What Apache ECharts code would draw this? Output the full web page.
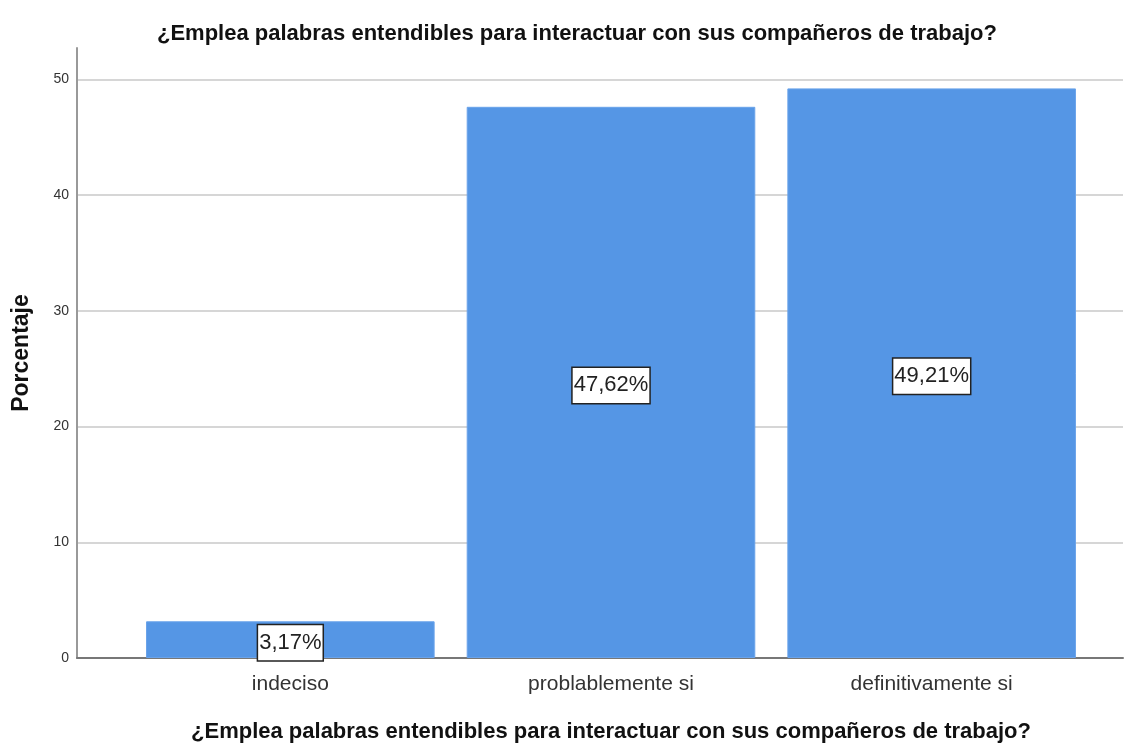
<!DOCTYPE html>
<html>
<head>
<meta charset="utf-8">
<script src="https://cdn.jsdelivr.net/npm/echarts@6/dist/echarts.min.js"></script>
<style>
  html, body { margin: 0; padding: 0; background: #fff; }
  #chart { width: 1131px; height: 745px; }
</style>
</head>
<body>
<div id="chart"></div>
<script>
// datos
const categories = ["indeciso", "problablemente si", "definitivamente si"];
const percentages = [3.17, 47.62, 49.21];
const yTicks = [0, 10, 20, 30, 40, 50];

const pregunta = "¿Emplea palabras entendibles para interactuar con sus compañeros de trabajo?";
const font = "Liberation Sans, Arial, sans-serif";
const yMax = 52.7;

const chart = echarts.init(document.getElementById("chart"));

const option = {
    animation: false,
    title: {
        text: pregunta,
        left: 152,
        top: 18,
        textStyle: { fontFamily: font, fontSize: 22, fontWeight: "bold", color: "#111" }
    },
    grid: [
        { left: 77, right: 8, top: 48, bottom: 87, outerBoundsMode: "none" },
        { left: 130, right: 39, top: 48, bottom: 87, outerBoundsMode: "none" }
    ],
    xAxis: [
        {
            gridIndex: 0,
            type: "category",
            data: categories,
            axisLine: { show: true, lineStyle: { color: "#777", width: 2 } },
            axisTick: { show: false },
            axisLabel: { show: false }
        },
        {
            gridIndex: 1,
            type: "category",
            data: categories,
            axisLine: { show: false },
            axisTick: { show: false },
            axisLabel: { margin: 16, fontFamily: font, fontSize: 21, color: "#333" },
            name: pregunta,
            nameLocation: "middle",
            nameGap: 63,
            nameTextStyle: { fontFamily: font, fontSize: 22, fontWeight: "bold", color: "#111" }
        }
    ],
    yAxis: [
        {
            gridIndex: 0,
            type: "value",
            min: 0,
            max: yMax,
            interval: 10,
            axisLine: { show: true, lineStyle: { color: "#999", width: 2 } },
            axisTick: { show: false },
            axisLabel: {
                showMaxLabel: false,
                margin: 8,
                fontFamily: font, fontSize: 14, color: "#333",
                formatter: v => (yTicks.indexOf(v) >= 0 ? String(v) : "")
            },
            splitLine: { show: true, showMinLine: false, showMaxLine: false, lineStyle: { color: "#d6d6d6", width: 2 } },
            name: "Porcentaje",
            nameLocation: "middle",
            nameGap: 44,
            nameTextStyle: { fontFamily: font, fontSize: 23, fontWeight: "bold", color: "#111" }
        },
        {
            gridIndex: 1,
            type: "value",
            min: 0,
            max: yMax,
            show: false,
            splitLine: { show: false }
        }
    ],
    series: [{
        type: "bar",
        xAxisIndex: 1,
        yAxisIndex: 1,
        data: percentages,
        barCategoryGap: "10%",
        itemStyle: { color: "#5596E5", borderColor: "#6aa3ea", borderWidth: 1 },
        label: {
            show: true,
            position: "inside",
            offset: [0, 3],
            formatter: p => p.value.toFixed(2).replace(".", ",") + "%",
            fontFamily: font,
            fontSize: 22,
            color: "#222",
            backgroundColor: "#fff",
            borderColor: "#222",
            borderWidth: 1.5,
            padding: [7, 1, 6, 1]
        }
    }]
};

chart.setOption(option);
</script>
</body>
</html>
